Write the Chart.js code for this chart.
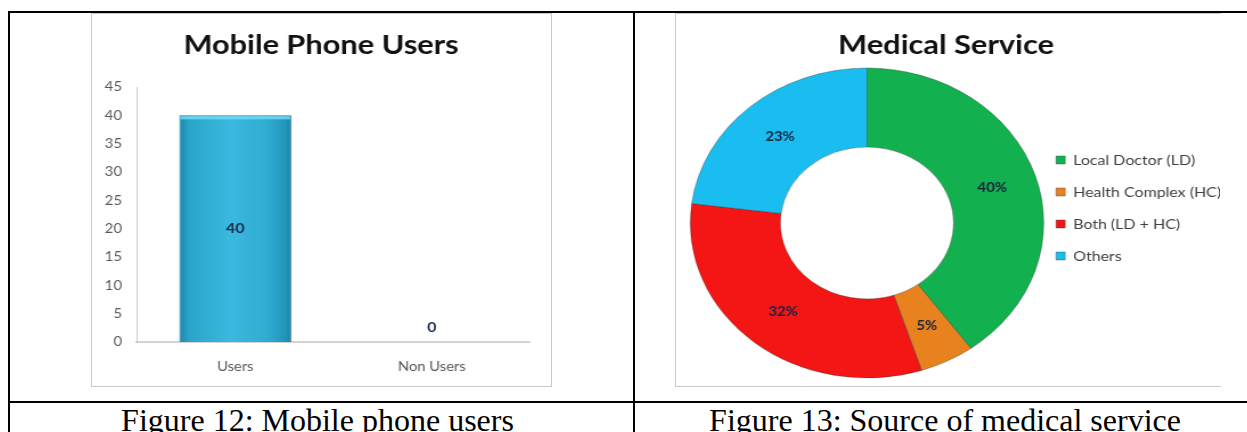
<!DOCTYPE html>
<html>
<head>
<meta charset="utf-8">
<title>Mobile phone users and medical service</title>
<script src="https://cdn.jsdelivr.net/npm/chart.js@4.4.1/dist/chart.umd.min.js"></script>
<style>
  html, body { margin: 0; padding: 0; background: #fff; }
  body { width: 1247px; height: 432px; position: relative; overflow: hidden; }
  .rule { position: absolute; background: #000; }
  .frame { position: absolute; box-sizing: border-box; border: 1px solid #c9c9c9; background: #fff; }
  .stretch { position: absolute; transform-origin: 0 0; }
  .caption {
    position: absolute; text-align: center; white-space: nowrap; color: #000;
    font-family: "Liberation Serif", "Times New Roman", serif; font-size: 32px; line-height: 32px;
  }
</style>
</head>
<body>
<!-- table rules -->
<div class="rule" style="left:8px;top:11px;width:1239px;height:2px"></div>
<div class="rule" style="left:8px;top:11px;width:2px;height:421px"></div>
<div class="rule" style="left:633px;top:11px;width:2px;height:421px"></div>
<div class="rule" style="left:8px;top:401px;width:1239px;height:2px"></div>

<!-- chart frames -->
<div class="frame" style="left:91px;top:13px;width:461px;height:374px"></div>
<div class="frame" style="left:675px;top:13px;width:546px;height:374px;border-right:none"></div>

<div class="stretch" style="left:91px;top:13px;width:404px;height:373px;transform:scaleX(1.1386)">
  <canvas id="usersChart"></canvas>
</div>
<div class="stretch" style="left:675px;top:13px;width:478px;height:373px;transform:scaleX(1.1402)">
  <canvas id="serviceChart"></canvas>
</div>

<div class="caption" style="left:8px;top:404px;width:619px">Figure 12: Mobile phone users</div>
<div class="caption" style="left:635px;top:404px;width:620px">Figure 13: Source of medical service</div>

<script>
// mobile phone users
const userCategories = ["Users", "Non Users"];
const userCounts = [40, 0];
const countMax = 45;
const countStep = 5;

// source of medical service (%)
const serviceLabels = ["Local Doctor (LD)", "Health Complex (HC)", "Both (LD + HC)", "Others"];
const serviceShares = [40, 5, 32, 23];
const serviceColors = ["#12b04f", "#e8821e", "#f41515", "#1abdf0"];

const barPct = 0.57;
const uiFont = "Lato";

const titleOpts = (text, gapBelow) => ({
    display: true,
    text: text,
    color: "#111111",
    font: { family: uiFont, size: 27, weight: "bold", lineHeight: 1.2 },
    padding: { top: 15.8, bottom: gapBelow },
});

// cylinder-like shading across the bar
function barFill(c) {
    const chart = c.chart;
    const xs = chart.scales.x;
    if (!xs || !chart.chartArea) return "#2ea9d1";
    const cx = xs.getPixelForValue(c.dataIndex);
    const half = (xs.width / userCategories.length) * barPct / 2;
    const g = chart.ctx.createLinearGradient(cx - half, 0, cx + half, 0);
    g.addColorStop(0, "#1c86a9");
    g.addColorStop(0.08, "#2aa3c8");
    g.addColorStop(0.45, "#3bb9e0");
    g.addColorStop(0.8, "#30aad1");
    g.addColorStop(0.95, "#2394b9");
    g.addColorStop(1, "#1a7f9f");
    return g;
}

const barValueLabels = {
    id: "barValueLabels",
    afterDatasetsDraw(chart) {
        const { ctx } = chart;
        const meta = chart.getDatasetMeta(0);
        ctx.save();
        meta.data.forEach((bar, i) => {
            const { x, y, base, width } = bar.getProps(["x", "y", "base", "width"], true);
            if (base - y > 6) {
                ctx.fillStyle = "rgba(110, 218, 244, 0.85)";
                ctx.fillRect(x - width / 2 + 1, y + 1, width - 2, 3);
            }
            ctx.font = "bold 14px " + uiFont;
            ctx.fillStyle = "#1c2a48";
            ctx.textAlign = "center";
            ctx.textBaseline = "middle";
            const ty = base - y > 20 ? (y + base) / 2 : base - 15;
            ctx.fillText(String(userCounts[i]), x, ty);
        });
        ctx.restore();
    },
};

new Chart(document.getElementById("usersChart"), {
    type: "bar",
    data: {
        labels: userCategories,
        datasets: [
            {
                data: userCounts,
                backgroundColor: barFill,
                borderColor: "#1d7f9f",
                borderWidth: 1,
                barPercentage: barPct,
                categoryPercentage: 1,
            },
        ],
    },
    options: {
        responsive: true,
        maintainAspectRatio: false,
        animation: false,
        layout: { padding: 0 },
        plugins: {
            legend: { display: false },
            tooltip: { enabled: false },
            title: titleOpts("Mobile Phone Users", 25.8),
        },
        scales: {
            x: {
                grid: { display: false, drawTicks: false },
                border: { color: "#d4d4d4", width: 2 },
                ticks: { color: "#595959", font: { family: uiFont, size: 13 }, padding: 17 },
                afterFit: (s) => { s.height = 44; },
            },
            y: {
                min: 0,
                max: countMax,
                grid: { display: false, drawTicks: false },
                border: { color: "#cccccc", width: 1 },
                ticks: { stepSize: countStep, color: "#595959", font: { family: uiFont, size: 13 }, padding: 13.2 },
                afterFit: (s) => { s.width = 40.4; },
            },
            // empty right-hand axis, keeps the plot clear of the frame edge
            y2: {
                position: "right",
                grid: { display: false, drawTicks: false },
                border: { display: false },
                ticks: { display: false },
                afterFit: (s) => { s.width = 18.4; },
            },
        },
    },
    plugins: [barValueLabels],
});

// percentage text in the middle of each ring segment
const sliceLabels = {
    id: "sliceLabels",
    afterDatasetsDraw(chart) {
        const { ctx } = chart;
        ctx.save();
        ctx.font = "bold 13px " + uiFont;
        ctx.fillStyle = "#1a2340";
        ctx.textAlign = "center";
        ctx.textBaseline = "middle";
        chart.getDatasetMeta(0).data.forEach((arc, i) => {
            const p = arc.tooltipPosition(true);
            ctx.fillText(serviceShares[i] + "%", p.x, p.y);
        });
        ctx.restore();
    },
};

// legend box is kept narrow for layout; let its text run to the canvas edge
const legendOverflow = {
    id: "legendOverflow",
    beforeDraw(chart) {
        if (chart.legend) chart.legend.right = chart.width;
    },
};

new Chart(document.getElementById("serviceChart"), {
    type: "doughnut",
    data: {
        labels: serviceLabels,
        datasets: [
            {
                data: serviceShares,
                backgroundColor: serviceColors,
                borderColor: "rgba(50, 50, 50, 0.35)",
                borderWidth: 1,
                hoverOffset: 0,
            },
        ],
    },
    options: {
        responsive: true,
        maintainAspectRatio: false,
        animation: false,
        radius: 155,
        cutout: "49%",
        layout: { padding: { left: 20.6, right: 23.2, top: 0, bottom: 8 } },
        plugins: {
            tooltip: { enabled: false },
            title: titleOpts("Medical Service", 6.8),
            legend: {
                position: "right",
                align: "start",
                maxWidth: 138.6,
                // empty title only pushes the items down
                title: { display: true, text: "", padding: { top: 107.6, bottom: 0 } },
                labels: {
                    boxWidth: 8,
                    boxHeight: 8,
                    padding: 18,
                    color: "#404040",
                    font: { family: uiFont, size: 14 },
                },
            },
        },
    },
    plugins: [sliceLabels, legendOverflow],
});
</script>
</body>
</html>
